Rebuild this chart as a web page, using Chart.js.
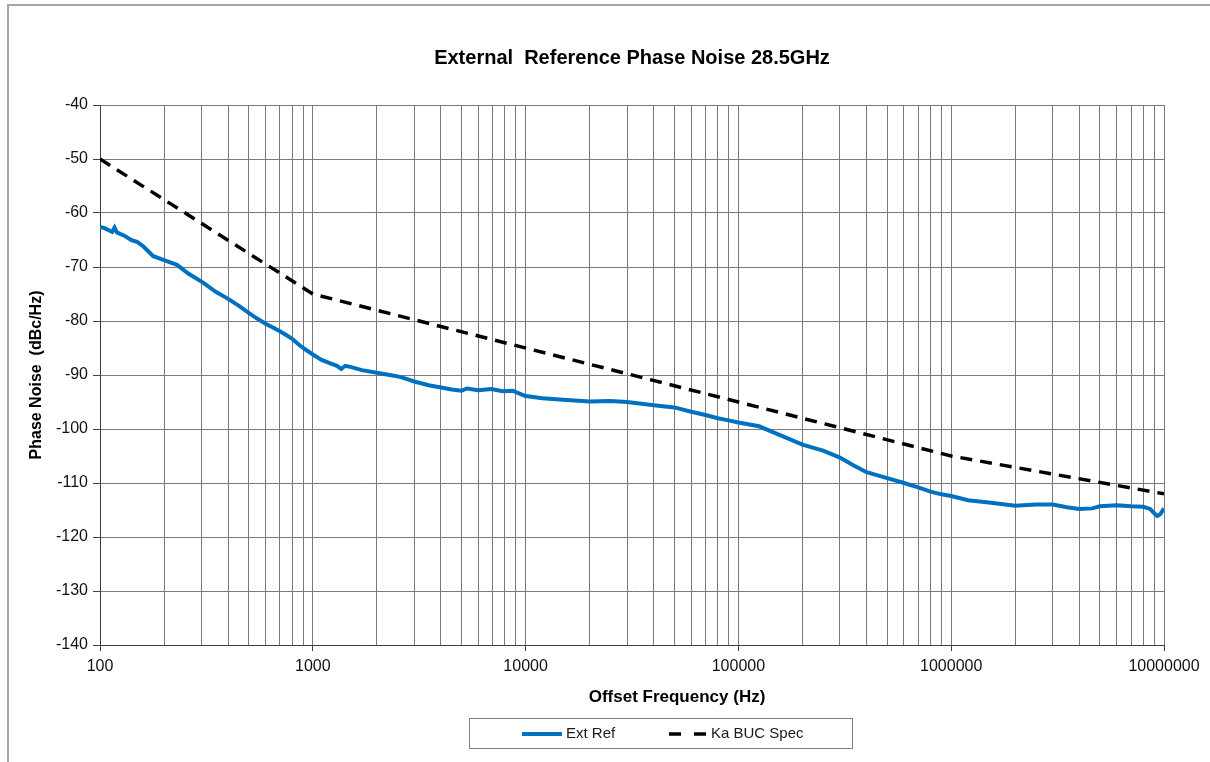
<!DOCTYPE html>
<html>
<head>
<meta charset="utf-8">
<script src="https://cdn.jsdelivr.net/npm/chart.js@4.4.1/dist/chart.umd.min.js"></script>
<style>
  html, body { margin: 0; padding: 0; background: #fff; }
  #wrap { position: relative; width: 1210px; height: 762px; overflow: hidden; }
  #frame { position: absolute; left: 7px; top: 4px; width: 1300px; height: 900px;
           border-left: 2px solid #a6a6a6; border-top: 2px solid #a6a6a6; }
  canvas { position: absolute; left: 0; top: 0; }
</style>
</head>
<body>
<div id="wrap"><div id="frame"></div><canvas id="noiseCanvas" width="1210" height="762"></canvas></div>
<script>
var extRefFreq = [100, 105, 110, 114, 117, 120, 130, 140, 150, 160, 178, 190, 209, 230, 260, 305, 350, 400, 450, 500,
    545, 600, 650, 700, 750, 800, 850, 900, 950, 1000, 1100, 1200, 1300, 1360, 1420, 1500, 1700, 2000, 2300, 2600,
    3000, 3500, 4000, 4500, 5000, 5300, 6000, 6900, 7800, 8700, 9300, 10000, 12000, 15000, 20000, 25000, 30000,
    40000, 50000, 60000, 70000, 80000, 90000, 100000, 125000, 150000, 200000, 250000, 300000, 350000, 400000,
    500000, 600000, 700000, 800000, 900000, 1000000, 1200000, 1500000, 2000000, 2500000, 3000000, 3500000,
    4000000, 4600000, 5000000, 6000000, 7000000, 8000000, 8600000, 9000000, 9300000, 9600000, 10000000];
var extRefNoise = [-62.6, -62.8, -63.2, -63.5, -62.7, -63.6, -64.2, -65.0, -65.4, -66.2, -68.0, -68.4, -69.0, -69.6, -71.2, -72.9, -74.6, -75.9, -77.2, -78.5,
    -79.5, -80.5, -81.2, -81.9, -82.6, -83.3, -84.2, -85.0, -85.6, -86.2, -87.2, -87.8, -88.3, -88.9, -88.3, -88.5, -89.1, -89.6, -90.0, -90.4,
    -91.2, -91.9, -92.3, -92.7, -92.9, -92.5, -92.8, -92.6, -93.0, -92.9, -93.4, -93.9, -94.3, -94.6, -94.9, -94.8, -95.0,
    -95.6, -96.0, -96.8, -97.4, -98.0, -98.4, -98.8, -99.5, -100.8, -102.9, -104.0, -105.3, -106.8, -108.0,
    -109.1, -110.0, -110.8, -111.6, -112.1, -112.4, -113.2, -113.6, -114.2, -114.0, -114.0, -114.5,
    -114.8, -114.7, -114.3, -114.1, -114.3, -114.4, -114.8, -115.6, -116.1, -115.8, -114.7];

// spec mask
var specFreq = [100, 1000, 1000000, 10000000];
var specNoise = [-50, -75, -105, -112];

var decades = [100, 1000, 10000, 100000, 1000000, 10000000];
var multipliers = [1, 2, 3, 4, 5, 6, 7, 8, 9];
var yMin = -140, yMax = -40, yStep = 10;

var xTickValues = [];
decades.forEach(function (d, i) {
    if (i === decades.length - 1) { xTickValues.push(d); return; }
    multipliers.forEach(function (m) { xTickValues.push(d * m); });
});

function isDecade(v) {
    var l = Math.log10(v);
    return Math.abs(l - Math.round(l)) < 1e-9;
}

function toPoints(xs, ys) {
    return xs.map(function (x, i) { return { x: x, y: ys[i] }; });
}

var FONT = "'Liberation Sans', Arial, sans-serif";

// x title + boxed legend drawn by hand to sit where the original has them
var extrasPlugin = {
    id: 'extras',
    afterDraw: function (chart) {
        var ctx = chart.ctx;
        var ds = chart.data.datasets;
        ctx.save();
        ctx.fillStyle = '#000';
        ctx.font = 'bold 17px ' + FONT;
        ctx.textAlign = 'center';
        ctx.textBaseline = 'middle';
        ctx.fillText('Offset Frequency (Hz)', 677, 697);

        // legend
        ctx.strokeStyle = '#7f7f7f';
        ctx.lineWidth = 1;
        ctx.strokeRect(469.5, 718.5, 383, 30);

        ctx.lineCap = 'butt';
        ctx.strokeStyle = ds[0].borderColor;
        ctx.lineWidth = ds[0].borderWidth;
        ctx.beginPath(); ctx.moveTo(522, 734); ctx.lineTo(562, 734); ctx.stroke();

        ctx.strokeStyle = ds[1].borderColor;
        ctx.lineWidth = ds[1].borderWidth;
        ctx.setLineDash([12, 13]);
        ctx.beginPath(); ctx.moveTo(669, 734); ctx.lineTo(706, 734); ctx.stroke();
        ctx.setLineDash([]);

        ctx.fillStyle = '#1a1a1a';
        ctx.font = '15px ' + FONT;
        ctx.textAlign = 'left';
        ctx.fillText(ds[0].label, 566, 734);
        ctx.fillText(ds[1].label, 711, 734);
        ctx.restore();
    }
};

var noiseCanvas = document.getElementById('noiseCanvas');
var noiseChart = new Chart(noiseCanvas, {
    type: 'line',
    data: {
        datasets: [{
            label: 'Ext Ref',
            data: toPoints(extRefFreq, extRefNoise),
            borderColor: '#0070c0',
            borderWidth: 4,
            pointRadius: 0,
            tension: 0,
            fill: false
        }, {
            label: 'Ka BUC Spec',
            data: toPoints(specFreq, specNoise),
            borderColor: '#000000',
            borderWidth: 3.5,
            borderDash: [12, 8],
            pointRadius: 0,
            tension: 0,
            fill: false
        }]
    },
    options: {
        responsive: false,
        animation: false,
        layout: { padding: { left: 0, right: 46, top: 0, bottom: 0 } },
        plugins: {
            legend: { display: false },
            tooltip: { enabled: false },
            title: {
                display: true,
                fullSize: false,
                text: 'External  Reference Phase Noise 28.5GHz',
                color: '#000',
                font: { family: FONT, size: 20, weight: 'bold' },
                padding: { top: 46, bottom: 35 }
            }
        },
        scales: {
            x: {
                type: 'logarithmic',
                min: 100,
                max: 10000000,
                afterFit: function (scale) { scale.height = 117; },
                afterBuildTicks: function (scale) {
                    scale.ticks = xTickValues.map(function (v) { return { value: v }; });
                },
                ticks: {
                    autoSkip: false,
                    maxRotation: 0,
                    padding: 6,
                    color: '#111',
                    font: { family: FONT, size: 16 },
                    callback: function (value) { return isDecade(value) ? String(value) : ''; }
                },
                grid: {
                    color: '#7a7a7a',
                    lineWidth: 1,
                    tickLength: 6,
                    tickColor: function (c) { return c.tick && isDecade(c.tick.value) ? '#404040' : 'rgba(0,0,0,0)'; }
                },
                border: { color: '#404040', width: 1 }
            },
            y: {
                type: 'linear',
                min: yMin,
                max: yMax,
                afterFit: function (scale) { scale.width = 100; },
                ticks: {
                    stepSize: yStep,
                    padding: 5,
                    color: '#111',
                    font: { family: FONT, size: 16 }
                },
                grid: {
                    color: '#7a7a7a',
                    lineWidth: 1,
                    tickLength: 7,
                    tickColor: '#404040'
                },
                border: { color: '#404040', width: 1 },
                title: {
                    display: true,
                    text: 'Phase Noise  (dBc/Hz)',
                    color: '#000',
                    font: { family: FONT, size: 16, weight: 'bold' },
                    padding: { top: 27, bottom: 0 }
                }
            }
        }
    },
    plugins: [extrasPlugin]
});
</script>
</body>
</html>
